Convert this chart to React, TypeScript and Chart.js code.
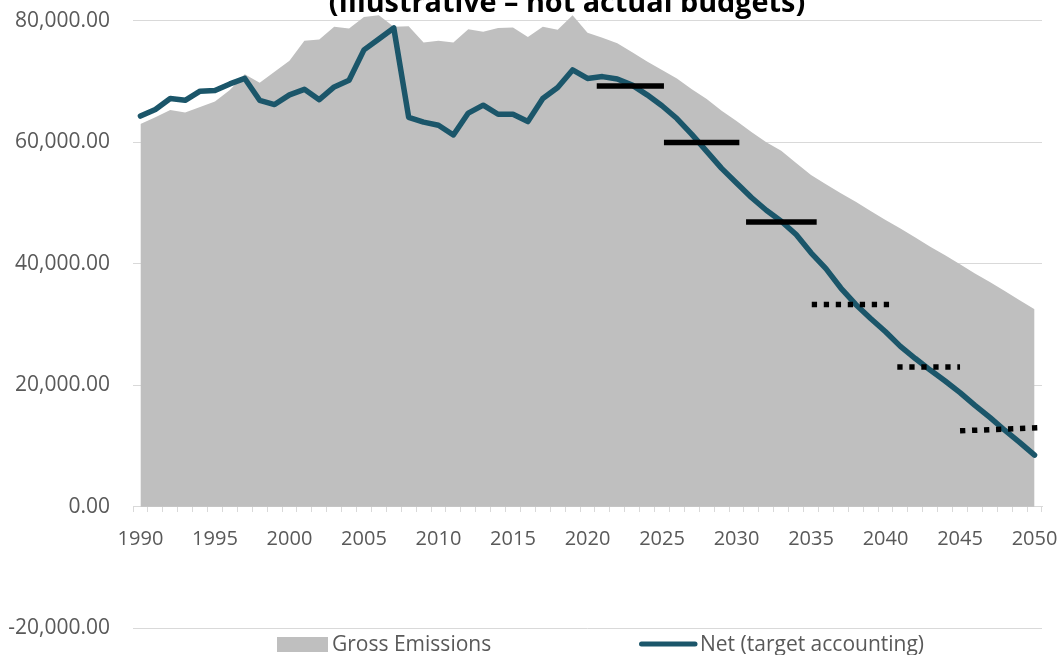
import React, { useEffect, useRef } from 'react';
import { Chart, registerables } from 'chart.js';

Chart.register(...registerables);

const categories = [
  '1990', '1991', '1992', '1993', '1994', '1995', '1996', '1997', '1998', '1999',
  '2000', '2001', '2002', '2003', '2004', '2005', '2006', '2007', '2008', '2009',
  '2010', '2011', '2012', '2013', '2014', '2015', '2016', '2017', '2018', '2019',
  '2020', '2021', '2022', '2023', '2024', '2025', '2026', '2027', '2028', '2029',
  '2030', '2031', '2032', '2033', '2034', '2035', '2036', '2037', '2038', '2039',
  '2040', '2041', '2042', '2043', '2044', '2045', '2046', '2047', '2048', '2049',
  '2050',
];

const grossEmissions = [
  63000, 64100, 65300, 64900, 65800, 66700, 68600, 71200, 69800, 71600,
  73400, 76700, 76900, 79000, 78700, 80600, 80900, 79000, 79100, 76400,
  76700, 76400, 78600, 78200, 78800, 78900, 77300, 79000, 78500, 80900,
  78000, 77200, 76300, 74800, 73300, 71900, 70500, 68700, 67100, 65200,
  63500, 61700, 60000, 58600, 56600, 54600, 53100, 51600, 50200, 48700,
  47200, 45800, 44300, 42800, 41400, 39900, 38400, 37000, 35500, 34000,
  32500,
];

const netTargetAccounting = [
  64300, 65400, 67200, 66900, 68400, 68500, 69600, 70500, 66900, 66200,
  67800, 68700, 67000, 69100, 70200, 75200, 77000, 78800, 64100, 63300,
  62800, 61200, 64800, 66100, 64600, 64600, 63400, 67200, 69000, 71900,
  70500, 70800, 70400, 69400, 67800, 66000, 63900, 61300, 58500, 55700,
  53300, 50900, 48800, 47000, 44800, 41800, 39200, 36000, 33300, 31000,
  28800, 26400, 24400, 22500, 20700, 18800, 16700, 14700, 12600, 10600,
  8500,
];

// Carbon budget periods (average annual level), drawn as horizontal bars
const budgetStartYear = [2020.62, 2025.13, 2030.64, 2035.05, 2040.79, 2045.0];
const budgetEndYear = [2025.13, 2030.19, 2035.38, 2040.3, 2045.0, 2050.25];
const budgetStartLevel = [69250, 59950, 46850, 33300, 23000, 12500];
const budgetEndLevel = [69250, 59950, 46850, 33300, 23000, 13000];
const budgetDotted = [false, false, false, true, true, true];

const yTickValues = [-20000, 0, 20000, 40000, 60000, 80000];

const titleText = '(Illustrative \u2013 not actual budgets)';

const GROSS_COLOR = '#bfbfbf';
const NET_COLOR = '#1b566a';
const AXIS_TEXT = '#595959';
const GRID = '#d9d9d9';
const FONT = '"Open Sans", "Liberation Sans", sans-serif';

const titlePlugin = {
  id: 'cutTitle',
  afterDraw(chart: any) {
    const ctx = chart.ctx;
    ctx.save();
    ctx.font = `bold 28.8px ${FONT}`;
    ctx.fillStyle = '#000000';
    ctx.textAlign = 'center';
    ctx.textBaseline = 'alphabetic';
    ctx.fillText(titleText, 567, 12);
    ctx.restore();
  },
};

const legendPlugin = {
  id: 'bottomLegend',
  afterDraw(chart: any) {
    const ctx = chart.ctx;
    const ds = chart.data.datasets;
    ctx.save();
    ctx.font = `21px ${FONT}`;
    ctx.textAlign = 'left';
    ctx.textBaseline = 'alphabetic';
    // Gross emissions swatch
    ctx.fillStyle = ds[0].backgroundColor;
    ctx.fillRect(277, 637, 51, 15);
    ctx.fillStyle = AXIS_TEXT;
    ctx.fillText(ds[0].label, 332, 651);
    // Net line swatch
    ctx.strokeStyle = ds[1].borderColor;
    ctx.lineWidth = 5;
    ctx.lineCap = 'round';
    ctx.beginPath();
    ctx.moveTo(641.5, 644);
    ctx.lineTo(695, 644);
    ctx.stroke();
    ctx.fillStyle = AXIS_TEXT;
    ctx.fillText(ds[1].label, 700, 651);
    ctx.restore();
  },
};

export default function App() {
  const canvasRef = useRef<HTMLCanvasElement | null>(null);

  useEffect(() => {
    if (!canvasRef.current) return;
    Chart.defaults.font.family = FONT;

    const budgetDatasets = budgetStartYear.map((start, i) => ({
      type: 'line' as const,
      label: `Budget ${i + 1}`,
      data: [
        { x: start, y: budgetStartLevel[i] },
        { x: budgetEndYear[i], y: budgetEndLevel[i] },
      ],
      xAxisID: 'xb',
      yAxisID: 'y',
      borderColor: '#000000',
      borderWidth: 5.5,
      borderDash: budgetDotted[i] ? [5.3, 6.7] : [],
      borderCapStyle: 'butt' as const,
      pointRadius: 0,
      fill: false,
      order: 1,
    }));

    const chart = new Chart(canvasRef.current, {
      type: 'line',
      data: {
        labels: categories,
        datasets: [
          {
            label: 'Gross Emissions',
            data: grossEmissions,
            xAxisID: 'x',
            yAxisID: 'y',
            fill: 'origin',
            backgroundColor: GROSS_COLOR,
            borderColor: 'rgba(0,0,0,0)',
            borderWidth: 0,
            pointRadius: 0,
            tension: 0,
            order: 3,
          },
          {
            label: 'Net (target accounting)',
            data: netTargetAccounting,
            xAxisID: 'x',
            yAxisID: 'y',
            fill: false,
            borderColor: NET_COLOR,
            backgroundColor: NET_COLOR,
            borderWidth: 5.5,
            borderJoinStyle: 'round',
            borderCapStyle: 'round',
            pointRadius: 0,
            tension: 0,
            order: 2,
          },
          ...budgetDatasets,
        ] as any,
      },
      options: {
        responsive: false,
        animation: false,
        events: [],
        layout: { padding: { left: 0, right: 19, top: 8.55, bottom: 26.7 } },
        plugins: {
          legend: { display: false },
          title: { display: false },
          tooltip: { enabled: false },
        },
        scales: {
          x: {
            type: 'category',
            offset: true,
            position: { y: 0 } as any,
            grid: {
              offset: true,
              drawOnChartArea: false,
              drawTicks: true,
              tickLength: 5,
              color: GRID,
              lineWidth: 1,
            },
            border: { display: true, color: GRID, width: 1 },
            ticks: {
              autoSkip: false,
              maxRotation: 0,
              minRotation: 0,
              padding: 16,
              color: AXIS_TEXT,
              font: { family: FONT, size: 20 },
              callback: (_v: any, i: number) => {
                const l = categories[i];
                return Number(l) % 5 === 0 ? l : '';
              },
            },
            afterFit: (s: any) => {
              s.height = 0;
              s.paddingLeft = 0;
              s.paddingRight = 0;
              s.paddingTop = 0;
              s.paddingBottom = 0;
            },
          },
          xb: {
            type: 'linear',
            display: false,
            min: 1989.5,
            max: 2050.5,
            afterFit: (s: any) => {
              s.height = 0;
              s.paddingLeft = 0;
              s.paddingRight = 0;
            },
          },
          y: {
            type: 'linear',
            min: -20000,
            max: 82000,
            afterBuildTicks: (s: any) => {
              s.ticks = yTickValues.map((v) => ({ value: v }));
            },
            grid: { color: GRID, drawTicks: false, lineWidth: 1 },
            border: { display: false },
            ticks: {
              padding: 23,
              color: AXIS_TEXT,
              font: { family: FONT, size: 21 },
              callback: (v: any) =>
                Number(v).toLocaleString('en-US', {
                  minimumFractionDigits: 2,
                  maximumFractionDigits: 2,
                }),
            },
            afterFit: (s: any) => {
              s.width = 133;
              s.paddingTop = 0;
              s.paddingBottom = 0;
              s.paddingLeft = 0;
              s.paddingRight = 0;
            },
          },
        } as any,
      },
      plugins: [titlePlugin, legendPlugin],
    });

    return () => chart.destroy();
  }, []);

  return (
    <div style={{ position: 'absolute', left: 0, top: 0, width: 1061, height: 655, background: '#ffffff' }}>
      <canvas ref={canvasRef} width={1061} height={655} style={{ display: 'block' }} />
    </div>
  );
}
